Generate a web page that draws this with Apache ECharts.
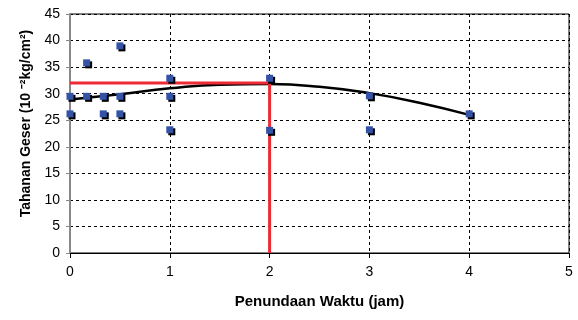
<!DOCTYPE html>
<html>
<head>
<meta charset="utf-8">
<script src="https://cdn.jsdelivr.net/npm/echarts@6/dist/echarts.min.js"></script>
<style>html,body{margin:0;padding:0;background:#fff}#c{width:578px;height:320px}</style>
</head>
<body>
<div id="c"></div>
<script>
// Observed data points (jam, Tahanan Geser)
var obsX = [0, 0, 1/6, 1/6, 1/3, 1/3, 0.5, 0.5, 0.5, 1, 1, 1, 2, 2, 3, 3, 4];
var obsY = [29.5, 26.2, 35.8, 29.5, 29.5, 26.2, 39.0, 29.5, 26.2, 32.9, 29.5, 23.2, 32.9, 23.1, 29.6, 23.2, 26.2];
// Trend curve
var trendX = [0, 0.5, 1, 1.5, 2, 2.5, 3, 3.5, 4];
var trendY = [28.9, 29.9, 31.0, 31.7, 31.8, 31.3, 30.1, 28.3, 26.0];
// Red guide lines
var guideX = [0, 2, 2];
var guideY = [32, 32, 0];
var xTicks = [0, 1, 2, 3, 4, 5];
var yTicks = [0, 5, 10, 15, 20, 25, 30, 35, 40, 45];

function zip(a, b) { return a.map(function (v, i) { return [v, b[i]]; }); }

var chart = echarts.init(document.getElementById('c'), null, {renderer: 'canvas'});
var font = 'Liberation Sans, Arial, sans-serif';
chart.setOption({
  animation: false,
  grid: {left: 70, right: 9, top: 14, bottom: 67, show: true, borderColor: '#000', borderWidth: 1, backgroundColor: 'transparent'},
  xAxis: {
    type: 'value', min: xTicks[0], max: xTicks[xTicks.length - 1], interval: 1,
    name: 'Penundaan Waktu (jam)', nameLocation: 'middle', nameGap: 41,
    nameTextStyle: {fontFamily: font, fontSize: 15, fontWeight: 'bold', color: '#000'},
    axisLine: {show: true, lineStyle: {color: '#000', width: 1}},
    axisTick: {show: true, length: 5, lineStyle: {color: '#000'}},
    axisLabel: {fontFamily: font, fontSize: 14, color: '#000', margin: 12},
    splitLine: {show: true, lineStyle: {color: '#000', type: [3, 3], width: 1}}
  },
  yAxis: {
    type: 'value', min: yTicks[0], max: yTicks[yTicks.length - 1], interval: 5,
    name: 'Tahanan Geser (10 \u207B\u00B2kg/cm\u00B2)', nameLocation: 'middle', nameGap: 36,
    nameTextStyle: {fontFamily: font, fontSize: 14, fontWeight: 'bold', color: '#000', padding: [0, 0, 0, 20]},
    axisLine: {show: true, lineStyle: {color: '#888', width: 2}},
    axisTick: {show: true, length: 4, lineStyle: {color: '#888'}},
    axisLabel: {fontFamily: font, fontSize: 14, color: '#000', margin: 10},
    splitLine: {show: true, lineStyle: {color: '#000', type: [3, 3], width: 1}}
  },
  series: [
    {
      type: 'line', data: zip(trendX, trendY), smooth: true, symbol: 'none', z: 3,
      lineStyle: {color: '#000', width: 2.5}
    },
    {
      type: 'line', data: zip(guideX, guideY), symbol: 'none', z: 4,
      lineStyle: {color: '#ee2a35', width: 3}
    },
    {
      type: 'scatter', data: zip(obsX, obsY), symbol: 'rect', symbolSize: 7, z: 5,
      itemStyle: {color: '#3453a6', shadowColor: '#000', shadowOffsetX: 2, shadowOffsetY: 2, shadowBlur: 0, opacity: 1}
    }
  ]
});
</script>
</body>
</html>
